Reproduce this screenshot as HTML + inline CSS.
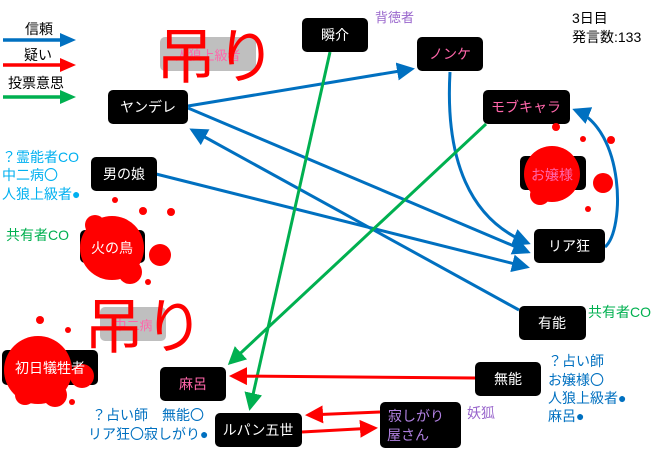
<!DOCTYPE html>
<html><head><meta charset="utf-8"><style>
body{margin:0;background:#fff;}
svg text{font-family:"Liberation Sans","Noto Sans CJK JP",sans-serif;}
</style></head><body>
<svg width="660" height="452" viewBox="0 0 660 452" xmlns="http://www.w3.org/2000/svg">
<defs>
<marker id="mb" markerWidth="6" markerHeight="6" refX="5" refY="3" orient="auto" markerUnits="strokeWidth"><path d="M0,0 L6,3 L0,6 z" fill="#0070c0"/></marker>
<marker id="mr" markerWidth="6" markerHeight="6" refX="5" refY="3" orient="auto" markerUnits="strokeWidth"><path d="M0,0 L6,3 L0,6 z" fill="#ff0000"/></marker>
<marker id="mg" markerWidth="6" markerHeight="6" refX="5" refY="3" orient="auto" markerUnits="strokeWidth"><path d="M0,0 L6,3 L0,6 z" fill="#00b050"/></marker>
</defs>
<text x="25" y="34" font-size="14">信頼</text>
<line x1="3" y1="40" x2="62" y2="40" stroke="#0070c0" stroke-width="3.5"/><path d="M60,33 L76,40 L60,47z" fill="#0070c0"/>
<text x="24" y="60" font-size="14">疑い</text>
<line x1="3" y1="65" x2="62" y2="65" stroke="#f00" stroke-width="3.5"/><path d="M60,58 L76,65 L60,72z" fill="#f00"/>
<text x="8" y="88" font-size="14">投票意思</text>
<line x1="3" y1="97" x2="62" y2="97" stroke="#00b050" stroke-width="3.5"/><path d="M60,90 L76,97 L60,104z" fill="#00b050"/>
<text x="572" y="23" font-size="14">3日目</text>
<text x="572" y="42" font-size="14">発言数:133</text>
<text x="375" y="22" font-size="13" fill="#9966cc">背徳者</text>
<rect x="160" y="37" width="96" height="34" rx="5" fill="#bfbfbf"/>
<text x="208" y="60" font-size="13" fill="#ff66aa" text-anchor="middle">人狼上級者</text>
<rect x="100" y="307" width="66" height="34" rx="5" fill="#bfbfbf"/>
<text x="133" y="330" font-size="13" fill="#ff66aa" text-anchor="middle">中二病</text>
<g fill="none" stroke-width="3">
<line x1="188" y1="106" x2="412" y2="69" stroke="#0070c0" marker-end="url(#mb)"/>
<line x1="188" y1="108" x2="528" y2="252" stroke="#0070c0" marker-end="url(#mb)"/>
<line x1="156" y1="174" x2="527" y2="267" stroke="#0070c0" marker-end="url(#mb)"/>
<line x1="519" y1="310" x2="192" y2="130" stroke="#0070c0" marker-end="url(#mb)"/>
<path d="M450,72 C445,160 470,220 528,243" stroke="#0070c0" marker-end="url(#mb)"/>
<path d="M605,247 C625,230 625,130 575,110" stroke="#0070c0" marker-end="url(#mb)"/>
<line x1="330" y1="52" x2="250" y2="408" stroke="#00b050" marker-end="url(#mg)"/>
<line x1="486" y1="124" x2="230" y2="363" stroke="#00b050" marker-end="url(#mg)"/>
<line x1="475" y1="378" x2="232" y2="376" stroke="#f00" marker-end="url(#mr)"/>
<line x1="380" y1="412" x2="308" y2="415" stroke="#f00" marker-end="url(#mr)"/>
<line x1="302" y1="432" x2="375" y2="428" stroke="#f00" marker-end="url(#mr)"/>
</g>
<g font-size="14" text-anchor="middle">
<rect x="302" y="18" width="66" height="34" rx="5"/><text x="335" y="40" fill="#fff">瞬介</text>
<rect x="417" y="37" width="66" height="34" rx="5"/><text x="450" y="59" fill="#ff66aa">ノンケ</text>
<rect x="483" y="90" width="87" height="34" rx="5"/><text x="526" y="112" fill="#ff66aa">モブキャラ</text>
<rect x="534" y="229" width="71" height="34" rx="5"/><text x="569" y="251" fill="#fff">リア狂</text>
<rect x="519" y="306" width="67" height="34" rx="5"/><text x="552" y="328" fill="#fff">有能</text>
<rect x="475" y="362" width="66" height="34" rx="5"/><text x="508" y="384" fill="#fff">無能</text>
<rect x="380" y="402" width="81" height="46" rx="5"/><text x="416" y="421" fill="#b080e0">寂しがり</text><text x="408" y="440" fill="#b080e0">屋さん</text>
<rect x="215" y="413" width="87" height="34" rx="5"/><text x="258" y="435" fill="#fff">ルパン五世</text>
<rect x="160" y="367" width="66" height="34" rx="5"/><text x="193" y="389" fill="#ff66aa">麻呂</text>
<rect x="108" y="90" width="80" height="34" rx="5"/><text x="148" y="112" fill="#fff">ヤンデレ</text>
<rect x="91" y="157" width="66" height="34" rx="5"/><text x="124" y="179" fill="#fff">男の娘</text>
<rect x="2" y="350" width="96" height="35" rx="5"/>
<rect x="80" y="230" width="65" height="33" rx="5"/>
<rect x="520" y="156" width="66" height="34" rx="5"/>
</g>
<g fill="#f00">
<circle cx="112" cy="248" r="32"/><circle cx="160" cy="255" r="11"/><circle cx="115" cy="200" r="3"/><circle cx="143" cy="211" r="4"/><circle cx="171" cy="212" r="4"/><circle cx="148" cy="282" r="3"/><circle cx="95" cy="225" r="10"/><circle cx="130" cy="272" r="12"/>
<circle cx="38" cy="370" r="34"/><circle cx="82" cy="376" r="12"/><circle cx="40" cy="320" r="4"/><circle cx="68" cy="330" r="3"/><circle cx="72" cy="402" r="3"/><circle cx="25" cy="395" r="10"/><circle cx="55" cy="395" r="12"/>
<circle cx="552" cy="174" r="28"/><circle cx="603" cy="183" r="10"/><circle cx="556" cy="127" r="4"/><circle cx="583" cy="139" r="3"/><circle cx="611" cy="140" r="4"/><circle cx="588" cy="209" r="3"/><circle cx="540" cy="195" r="10"/>
</g>
<g font-size="14" text-anchor="middle">
<text x="112" y="253" fill="#fff">火の鳥</text>
<text x="50" y="373" fill="#fff">初日犠牲者</text>
<text x="552" y="180" fill="#ff66aa">お嬢様</text>
</g>
<text x="156" y="78" font-size="60" fill="#f00">吊り</text>
<text x="84" y="348" font-size="60" fill="#f00">吊り</text>
<g font-size="14">
<text x="2" y="162" fill="#00b0f0">？霊能者CO</text>
<text x="2" y="180" fill="#00b0f0">中二病〇</text>
<text x="2" y="199" fill="#00b0f0">人狼上級者●</text>
<text x="6" y="240" fill="#00b050">共有者CO</text>
<text x="588" y="317" fill="#00b050">共有者CO</text>
<text x="548" y="366" fill="#0070c0">？占い師</text>
<text x="548" y="385" fill="#0070c0">お嬢様〇</text>
<text x="548" y="403" fill="#0070c0">人狼上級者●</text>
<text x="548" y="421" fill="#0070c0">麻呂●</text>
<text x="467" y="418" fill="#9966cc">妖狐</text>
<text x="92" y="420" fill="#0070c0">？占い師　無能〇</text>
<text x="88" y="439" fill="#0070c0">リア狂〇寂しがり●</text>
</g>
</svg>
</body></html>
